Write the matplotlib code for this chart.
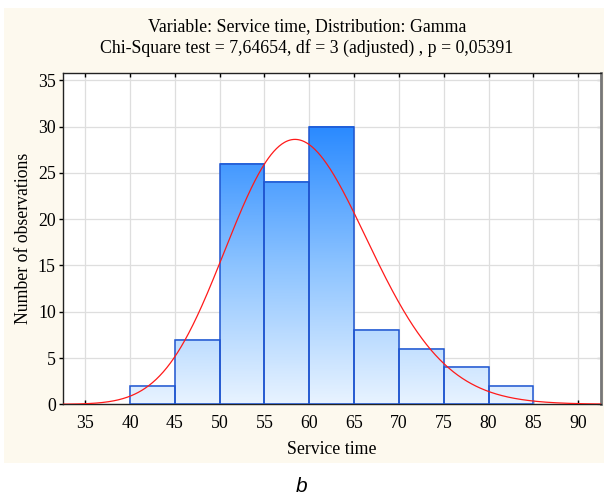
import math
import numpy as np
import matplotlib.pyplot as plt
from matplotlib.colors import LinearSegmentedColormap, Normalize
from matplotlib.patches import Rectangle

# histogram of service time (bin edges and counts)
bin_edges = [40, 45, 50, 55, 60, 65, 70, 75, 80, 85]
counts = [2, 7, 26, 24, 30, 8, 6, 4, 2]

# fitted gamma distribution (shape, scale) and expected-count scale
gamma_shape = 56.0
gamma_scale = 1.062
fit_scale = 566.0

x_ticks = [35, 40, 45, 50, 55, 60, 65, 70, 75, 80, 85, 90]
y_ticks = [0, 5, 10, 15, 20, 25, 30, 35]

title = ('Variable: Service time, Distribution: Gamma\n'
         'Chi-Square test = 7,64654, df = 3 (adjusted) , p = 0,05391')

serif = ['Liberation Serif', 'DejaVu Serif']

fig = plt.figure(figsize=(6.04, 4.96), dpi=100)
fig.patch.set_facecolor('white')
fig.patches.append(Rectangle((4 / 604, 1 - 463 / 496), 600 / 604, 455 / 496,
                             transform=fig.transFigure, facecolor='#fdf9ee',
                             edgecolor='none', zorder=-10))

ax = fig.add_axes([62.7 / 604, 1 - 404.3 / 496, 538 / 604, 331.3 / 496])
ax.set_facecolor('white')

cmap = LinearSegmentedColormap.from_list('blues', ['#e8f3ff', '#8cc3ff', '#2a8aff'])
norm = Normalize(0, max(counts))

for left, right, h in zip(bin_edges[:-1], bin_edges[1:], counts):
    grad = np.linspace(0, h, 200).reshape(-1, 1)
    ax.imshow(grad, extent=[left, right, 0, h], origin='lower', cmap=cmap,
              norm=norm, aspect='auto', zorder=2, interpolation='bilinear')

widths = np.diff(bin_edges)
ax.bar(bin_edges[:-1], counts, width=widths, align='edge', fill=False,
       edgecolor='#1f55d0', linewidth=1.1, zorder=3)

# fitted gamma curve
xs = np.linspace(32.5, 92.5, 600)
k, th = gamma_shape, gamma_scale
log_pdf = (k - 1) * np.log(xs) - xs / th - math.lgamma(k) - k * math.log(th)
ax.plot(xs, fit_scale * np.exp(log_pdf), color='#ff1a1a', linewidth=0.9, zorder=4)

ax.set_xlim(32.5, 92.5)
ax.set_ylim(0, 35.8)
ax.set_xticks(x_ticks)
ax.set_yticks(y_ticks)
ax.grid(True, color='#dedede', linewidth=0.9, zorder=0)
ax.set_axisbelow(True)

ax.tick_params(axis='x', direction='in', top=True, length=3, width=1,
               pad=8, labelsize=12.8)
ax.tick_params(axis='y', direction='out', right=False, length=3, width=1,
               pad=2, labelsize=12.8)
for lab in ax.get_xticklabels() + ax.get_yticklabels():
    lab.set_family(serif)

ax.secondary_yaxis('right').tick_params(direction='in', length=3, labelright=False)

for side in ['left', 'bottom', 'top']:
    ax.spines[side].set_color('#222222')
    ax.spines[side].set_linewidth(1.0)
ax.spines['right'].set_color('#777777')
ax.spines['right'].set_linewidth(2.0)

ax.set_xlabel('Service time', family=serif, fontsize=12.8, labelpad=6)
ax.set_ylabel('Number of observations', family=serif, fontsize=12.8, labelpad=4)

fig.text(0.508, 1 - 37.5 / 496, title, ha='center', va='center',
         family=serif, fontsize=12.8, linespacing=1.3)
fig.text(0.5, 1 - 487 / 496, 'b', ha='center', va='center',
         family=['Liberation Sans', 'DejaVu Sans'], style='italic', fontsize=15)

fig.savefig('out.png', dpi=100)
